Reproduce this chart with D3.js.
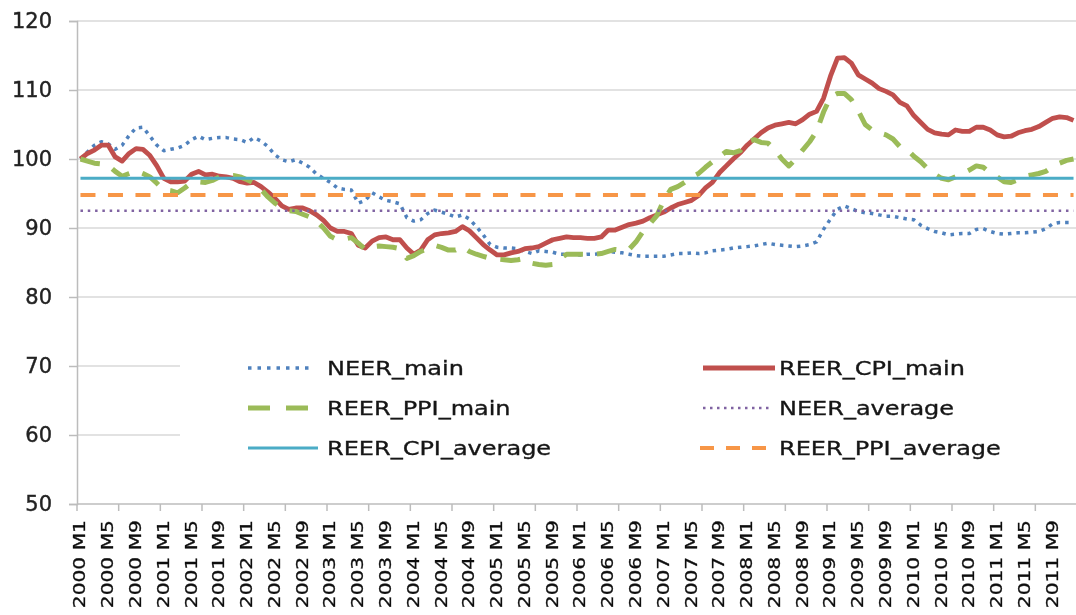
<!DOCTYPE html>
<html>
<head>
<meta charset="utf-8">
<script src="https://cdn.jsdelivr.net/npm/d3@7/dist/d3.min.js"></script>
<style>
  html, body { margin: 0; padding: 0; background: #ffffff; }
  svg { display: block; }
</style>
</head>
<body>
<svg id="chart" width="1076" height="615"></svg>
<script>
// ---------- DATA ----------
const years = [2000, 2001, 2002, 2003, 2004, 2005, 2006, 2007, 2008, 2009, 2010, 2011];
const categories = [];
years.forEach(yr => { for (let m = 1; m <= 12; m++) categories.push(yr + " M" + m); });
const labelMonths = [1, 5, 9];
const yTicks = [50, 60, 70, 80, 90, 100, 110, 120];

const NEER_main = [
  100.0,101.0,102.0,102.5,102.2,101.4,102.0,103.4,104.5,104.6,103.3,102.0,
  101.2,101.4,101.6,102.0,102.8,103.3,102.8,103.0,103.1,103.1,102.9,102.8,
  102.4,103.1,102.6,101.8,100.6,99.9,99.6,99.9,99.4,98.8,97.8,97.2,
  96.6,95.8,95.6,95.5,93.6,94.0,95.1,94.5,94.0,93.8,93.5,91.5,
  91.0,91.2,92.1,92.6,92.3,92.0,91.6,91.9,91.3,90.2,89.0,87.6,
  87.2,87.1,87.1,87.0,86.6,86.3,86.7,86.6,86.5,86.2,86.2,86.2,
  86.1,86.2,86.2,86.3,86.6,86.5,86.4,86.2,86.0,85.9,85.9,85.9,
  85.9,86.1,86.3,86.3,86.4,86.3,86.4,86.7,86.8,86.9,87.1,87.2,
  87.3,87.4,87.6,87.8,87.6,87.5,87.4,87.3,87.4,87.6,88.0,89.8,
  91.3,92.7,93.2,92.8,92.4,92.2,92.1,91.9,91.7,91.7,91.5,91.3,
  91.2,90.4,89.9,89.5,89.3,89.0,89.1,89.2,89.2,89.8,89.9,89.5,
  89.2,89.1,89.2,89.3,89.3,89.4,89.5,89.9,90.6,90.8,90.8,90.8
];
const REER_CPI_main = [
  100.0,100.8,101.3,102.0,102.0,100.3,99.7,100.8,101.5,101.4,100.5,99.0,
  97.2,96.7,96.7,96.8,97.8,98.2,97.7,97.8,97.5,97.4,97.2,96.7,
  96.5,96.6,96.0,95.2,94.3,93.2,92.7,92.9,92.9,92.5,91.9,91.1,
  90.0,89.5,89.5,89.2,87.5,87.1,88.1,88.6,88.7,88.3,88.3,87.1,
  86.2,86.8,88.3,89.0,89.2,89.3,89.5,90.2,89.6,88.6,87.6,86.8,
  86.1,86.1,86.4,86.6,87.0,87.1,87.3,87.8,88.3,88.5,88.7,88.6,
  88.6,88.5,88.5,88.7,89.7,89.7,90.1,90.5,90.7,91.0,91.5,91.9,
  92.3,92.9,93.4,93.7,94.0,94.7,95.8,96.6,98.0,99.0,100.0,100.9,
  102.0,102.9,103.8,104.5,104.9,105.1,105.3,105.1,105.7,106.5,106.9,108.8,
  112.0,114.6,114.7,113.9,112.2,111.6,111.0,110.2,109.8,109.3,108.2,107.7,
  106.3,105.3,104.3,103.8,103.6,103.5,104.2,104.0,104.0,104.6,104.6,104.2,
  103.5,103.2,103.3,103.8,104.1,104.3,104.7,105.3,105.9,106.1,106.0,105.6
];
const REER_PPI_main = [
  100.0,99.7,99.4,99.3,99.1,98.2,97.5,97.9,98.3,97.9,97.4,96.5,
  95.5,95.4,95.1,95.8,96.6,96.7,96.6,96.9,97.4,97.6,97.6,97.4,
  97.0,96.5,95.6,94.5,93.6,93.0,92.5,92.4,92.0,91.6,91.0,90.0,
  88.8,88.3,88.4,88.6,87.8,86.9,87.3,87.4,87.3,87.2,87.0,85.6,
  86.0,86.6,87.0,87.5,87.2,86.8,86.8,87.3,86.6,86.2,85.9,85.6,
  85.5,85.4,85.3,85.4,85.6,84.9,84.7,84.6,84.7,85.5,86.2,86.2,
  86.2,86.2,86.2,86.3,86.6,86.9,86.8,86.9,88.0,89.5,90.6,91.8,
  94.0,95.6,96.0,96.6,97.4,97.9,98.8,99.6,100.3,101.1,100.9,101.2,
  102.5,102.8,102.4,102.3,101.3,100.0,99.0,100.0,101.3,102.5,104.0,106.8,
  109.0,109.5,109.5,108.6,107.0,105.0,104.2,103.8,103.5,102.9,101.8,101.4,
  100.4,99.6,98.6,97.8,97.2,97.0,97.4,97.9,98.4,99.0,98.8,98.0,
  97.4,96.7,96.6,97.0,97.5,97.7,97.9,98.2,98.9,99.4,99.8,100.0
];
const NEER_average = 92.5;
const REER_CPI_average = 97.2;
const REER_PPI_average = 94.8;

const seriesNames = ["NEER_main", "REER_CPI_main", "REER_PPI_main", "NEER_average", "REER_CPI_average", "REER_PPI_average"];

// ---------- STYLES ----------
const styles = {
  NEER_main:        { color: "#4f81bd", width: 3.5, dash: "3.5 5",    legDash: "3.5 6" },
  REER_CPI_main:    { color: "#c0504d", width: 4.8, dash: null,       legDash: null },
  REER_PPI_main:    { color: "#9bbb59", width: 5,   dash: "20 14",    legDash: "22 16" },
  NEER_average:     { color: "#8064a2", width: 2.5, dash: "2.5 4.8",  legDash: "2.5 4.5" },
  REER_CPI_average: { color: "#4bacc6", width: 3,   dash: null,       legDash: null },
  REER_PPI_average: { color: "#f79646", width: 4,   dash: "15 12.5",  legDash: "14 12" }
};
const fontFamily = "'DejaVu Sans', Verdana, sans-serif";

// ---------- LAYOUT ----------
const svg = d3.select("#chart");
const defs = svg.append("defs");
defs.append("filter").attr("id", "soft")
  .attr("x", "-5%").attr("y", "-5%").attr("width", "110%").attr("height", "110%")
  .append("feGaussianBlur").attr("stdDeviation", 0.55);
const root = svg.append("g").attr("filter", "url(#soft)");

const mLeft = 77, mRight = 1077, mTop = 21, mBottom = 504;

const x = d3.scaleBand().domain(categories).range([mLeft, mRight]).padding(0);
const y = d3.scaleLinear().domain([50, 120]).range([mBottom, mTop]);
const cx = c => x(c) + x.bandwidth() / 2;

// gridlines
root.append("g").selectAll("line")
  .data(yTicks.filter(t => t > 50))
  .join("line")
  .attr("x1", mLeft).attr("x2", mRight)
  .attr("y1", d => y(d)).attr("y2", d => y(d))
  .attr("stroke", "#d8d8d8").attr("stroke-width", 1.5);

// y axis
const yAxis = root.append("g").attr("transform", `translate(${mLeft},0)`)
  .call(d3.axisLeft(y).tickValues(yTicks).tickSize(8).tickPadding(17).tickFormat(d3.format("d")));
yAxis.select(".domain").attr("stroke", "#bcbcbc").attr("stroke-width", 1.5);
yAxis.selectAll(".tick line").attr("stroke", "#bcbcbc").attr("stroke-width", 1.5);
yAxis.selectAll(".tick text")
  .attr("font-family", fontFamily)
  .attr("font-size", 21).attr("fill", "#222")
  .attr("stroke", "#222").attr("stroke-width", 0.4);

// x axis line
root.append("line").attr("x1", mLeft).attr("x2", mRight).attr("y1", mBottom).attr("y2", mBottom)
  .attr("stroke", "#bcbcbc").attr("stroke-width", 1.5);
// x tick marks every 6 categories
const xTickPos = categories.filter((c, i) => i % 6 === 0).map(c => x(c)).concat([mRight]);
root.append("g").selectAll("line")
  .data(xTickPos)
  .join("line")
  .attr("x1", d => d).attr("x2", d => d)
  .attr("y1", mBottom).attr("y2", mBottom + 7)
  .attr("stroke", "#bcbcbc").attr("stroke-width", 1.5);
// x labels
const xLabels = categories.filter(c => labelMonths.includes(+c.split(" M")[1]));
root.append("g").selectAll("text")
  .data(xLabels)
  .join("text")
  .attr("transform", d => `translate(${cx(d) + 5},520) rotate(-90) scale(1.35,1)`)
  .attr("text-anchor", "end")
  .attr("font-family", fontFamily)
  .attr("font-size", 15)
  .attr("fill", "#111")
  .attr("stroke", "#111").attr("stroke-width", 0.3)
  .text(d => d);

// ---------- LINES ----------
const line = d3.line().x((d, i) => cx(categories[i])).y(d => y(d)).curve(d3.curveLinear);
const seriesData = {
  NEER_main: NEER_main,
  REER_CPI_main: REER_CPI_main,
  REER_PPI_main: REER_PPI_main,
  NEER_average: categories.map(() => NEER_average),
  REER_CPI_average: categories.map(() => REER_CPI_average),
  REER_PPI_average: categories.map(() => REER_PPI_average)
};
const plot = root.append("g");
seriesNames.forEach(name => {
  const s = styles[name];
  plot.append("path")
    .datum(seriesData[name])
    .attr("d", line)
    .attr("fill", "none")
    .attr("stroke", s.color)
    .attr("stroke-width", s.width)
    .attr("stroke-linejoin", "round")
    .attr("stroke-dasharray", s.dash);
});

// ---------- LEGEND ----------
const legend = root.append("g");
legend.append("rect").attr("x", 180).attr("y", 338).attr("width", mRight - 180).attr("height", 134).attr("fill", "#ffffff");
const legendPos = [
  { name: "NEER_main",        x1: 248, x2: 314, tx: 327, y: 368 },
  { name: "REER_CPI_main",    x1: 703, x2: 775, tx: 779, y: 368 },
  { name: "REER_PPI_main",    x1: 248, x2: 314, tx: 327, y: 408 },
  { name: "NEER_average",     x1: 703, x2: 772, tx: 779, y: 408 },
  { name: "REER_CPI_average", x1: 248, x2: 318, tx: 327, y: 448 },
  { name: "REER_PPI_average", x1: 700, x2: 772, tx: 779, y: 448 }
];
legendPos.forEach(p => {
  const s = styles[p.name];
  legend.append("line")
    .attr("x1", p.x1).attr("x2", p.x2).attr("y1", p.y).attr("y2", p.y)
    .attr("stroke", s.color).attr("stroke-width", s.width)
    .attr("stroke-dasharray", s.legDash);
  legend.append("text")
    .attr("transform", `translate(${p.tx},${p.y}) scale(1.2,1)`)
    .attr("dy", "0.36em")
    .attr("font-family", fontFamily)
    .attr("font-size", 20)
    .attr("fill", "#151515")
    .attr("stroke", "#151515").attr("stroke-width", 0.35)
    .text(p.name);
});
</script>
</body>
</html>
